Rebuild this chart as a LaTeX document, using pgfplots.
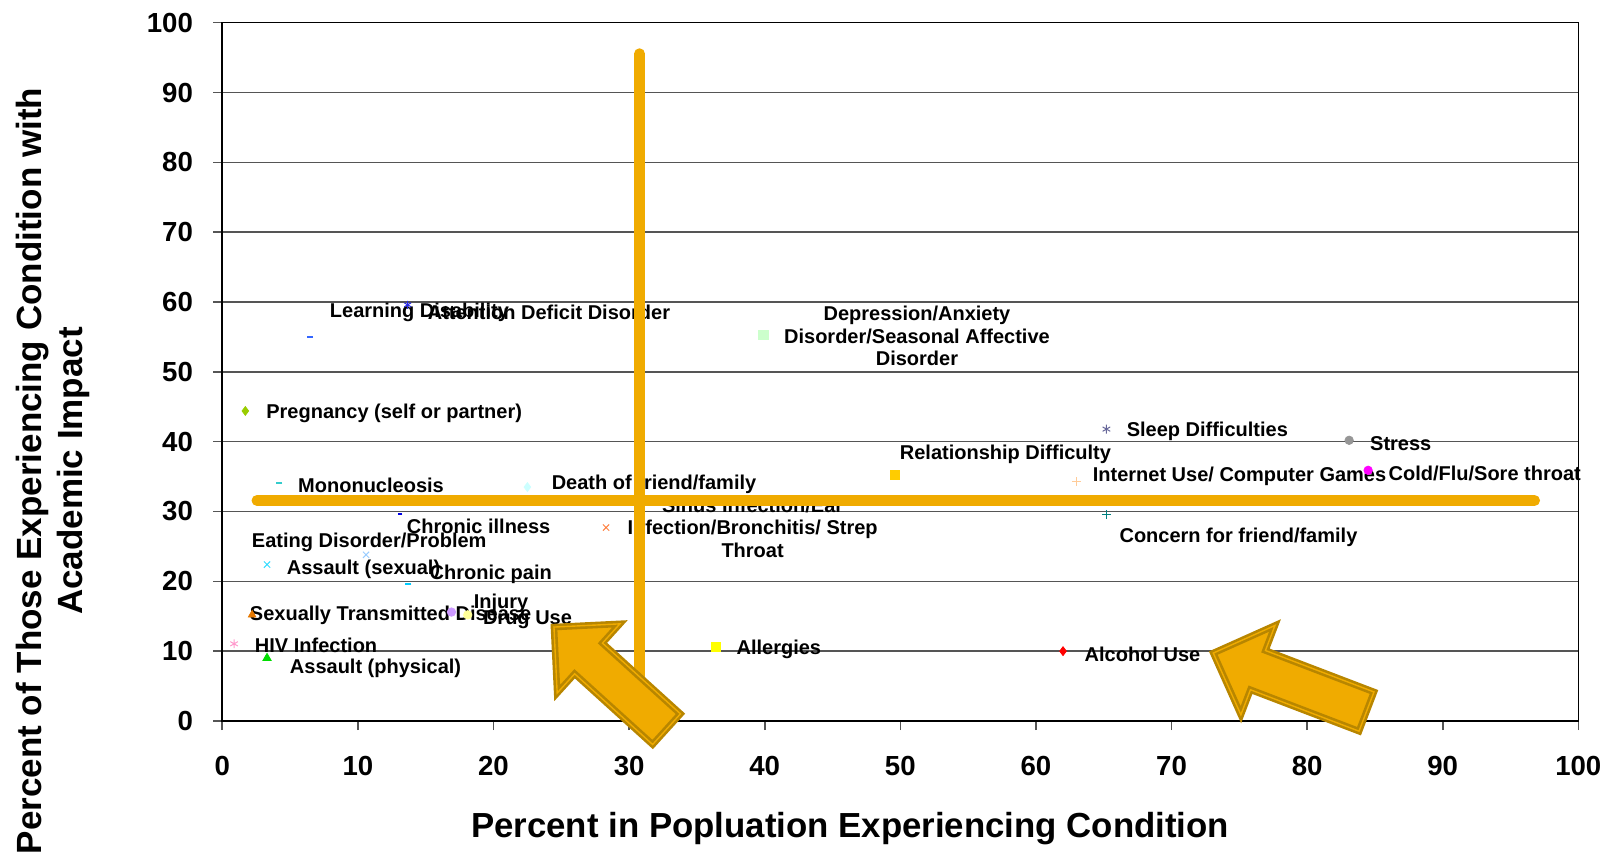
\documentclass[border=0pt]{standalone}
\usepackage{fontspec}
\setmainfont{Liberation Sans}
\usepackage{pgfplots}
\pgfplotsset{compat=1.18}
\definecolor{gridc}{RGB}{85,85,85}
\definecolor{hl}{RGB}{240,171,0}
\definecolor{hldark}{RGB}{184,134,0}
\tikzset{lbl/.style={anchor=west, inner sep=0pt, yshift=-1pt, font=\fontsize{10}{11.3}\selectfont\bfseries, text=black},
         lblc/.style={anchor=center, align=center, inner sep=0pt, font=\fontsize{10}{11.3}\selectfont\bfseries, text=black}}
\begin{document}
\begin{tikzpicture}
\useasboundingbox (-111.15pt,-65.5pt) rectangle (693.85pt,360.5pt);
\begin{axis}[
  at={(0pt,0pt)}, anchor=south west,
  scale only axis, width=678pt, height=349.15pt,
  xmin=0, xmax=100, ymin=0, ymax=100,
  xtick={0,10,...,100}, ytick={0,10,...,100},
  tick align=outside, major tick length=4.5pt,
  tick pos=left,
  ymajorgrids, grid style={gridc, line width=0.8pt},
  axis line style={black, line width=0.8pt},
  every tick/.style={gridc, line width=0.8pt},
  ticklabel style={font=\fontsize{13.8}{16}\selectfont\bfseries},
  /pgf/number format/assume math mode=true,
  xticklabel style={inner sep=0pt, anchor=center, yshift=-18pt},
  yticklabel style={inner sep=0pt, anchor=east, xshift=-10pt},
  clip=false,
  only marks,
]
% Learning Disability
\addplot[mark=-, mark size=1.6pt, line width=1pt, color={rgb,255:red,51;green,102;blue,255}] coordinates {(6.47,55.0)};
% Attention Deficit Disorder
\addplot[mark=asterisk, mark size=2pt, line width=0.5pt, color={rgb,255:red,40;green,40;blue,230}] coordinates {(13.67,59.6)};
% Pregnancy
\addplot[mark=diamond*, mark size=2.2pt, color={rgb,255:red,153;green,204;blue,0}] coordinates {(1.7,44.4)};
% Mononucleosis
\addplot[mark=-, mark size=1.6pt, line width=1pt, color={rgb,255:red,51;green,204;blue,204}] coordinates {(4.2,34.1)};
% Death of friend/family
\addplot[mark=diamond*, mark size=2.2pt, color={rgb,255:red,204;green,255;blue,255}] coordinates {(22.5,33.5)};
% Depression
\addplot[mark=square*, mark size=2.4pt, color={rgb,255:red,204;green,255;blue,204}] coordinates {(39.9,55.3)};
% Sleep
\addplot[mark=asterisk, mark size=2.2pt, line width=0.5pt, color={rgb,255:red,102;green,102;blue,153}] coordinates {(65.2,41.8)};
% Stress
\addplot[mark=*, mark size=2.1pt, color={rgb,255:red,150;green,150;blue,150}] coordinates {(83.1,40.2)};
% Cold/Flu
\addplot[mark=*, mark size=2.1pt, color={rgb,255:red,255;green,0;blue,255}] coordinates {(84.5,35.9)};
% Relationship
\addplot[mark=square*, mark size=2.2pt, color={rgb,255:red,255;green,204;blue,0}] coordinates {(49.6,35.2)};
% Internet
\addplot[mark=+, mark size=2.2pt, line width=0.5pt, color={rgb,255:red,255;green,204;blue,153}] coordinates {(63.0,34.3)};
% Concern
\addplot[mark=+, mark size=2.2pt, line width=0.5pt, color={rgb,255:red,0;green,128;blue,128}] coordinates {(65.2,29.6)};
% Chronic illness
\addplot[mark=-, mark size=1.2pt, line width=1pt, color={rgb,255:red,0;green,0;blue,230}] coordinates {(13.1,29.6)};
% Sinus
\addplot[mark=x, mark size=2.2pt, line width=0.5pt, color={rgb,255:red,255;green,128;blue,64}] coordinates {(28.3,27.7)};
% Eating Disorder
\addplot[mark=x, mark size=2.2pt, line width=0.5pt, color={rgb,255:red,153;green,204;blue,255}] coordinates {(10.6,23.8)};
% Assault (sexual)
\addplot[mark=x, mark size=2.2pt, line width=0.5pt, color={rgb,255:red,51;green,220;blue,255}] coordinates {(3.3,22.4)};
% Chronic pain
\addplot[mark=-, mark size=1.6pt, line width=1pt, color={rgb,255:red,0;green,204;blue,255}] coordinates {(13.7,19.6)};
% STD
\addplot[mark=triangle*, mark size=2.2pt, color={rgb,255:red,230;green,120;blue,0}] coordinates {(2.2,15.2)};
% Injury
\addplot[mark=*, mark size=2.1pt, color={rgb,255:red,204;green,153;blue,255}] coordinates {(16.9,15.6)};
% Drug Use
\addplot[mark=*, mark size=2.1pt, color={rgb,255:red,255;green,255;blue,153}] coordinates {(18.1,15.2)};
% HIV
\addplot[mark=asterisk, mark size=2.2pt, line width=0.5pt, color={rgb,255:red,255;green,153;blue,204}] coordinates {(0.87,11.05)};
% Assault (physical)
\addplot[mark=triangle*, mark size=2.4pt, color={rgb,255:red,0;green,220;blue,0}] coordinates {(3.3,9.0)};
% Allergies
\addplot[mark=square*, mark size=2.2pt, color={rgb,255:red,255;green,255;blue,0}] coordinates {(36.4,10.6)};
% Alcohol
\addplot[mark=diamond*, mark size=2.2pt, color={rgb,255:red,255;green,0;blue,0}] coordinates {(62.0,10.0)};

% data labels
\node[lbl] at (axis cs:7.91,58.86) {Learning Disability};
\node[lbl, anchor=east] at (axis cs:33.05,58.86) {Attention Deficit Disorder};
\node[lblc] at (axis cs:51.23,55.13) {Depression/Anxiety\\Disorder/Seasonal Affective\\Disorder};
\node[lbl] at (axis cs:3.22,44.29) {Pregnancy (self or partner)};
\node[lbl] at (axis cs:66.67,41.78) {Sleep Difficulties};
\node[lbl] at (axis cs:84.62,40.03) {Stress};
\node[lbl] at (axis cs:49.94,38.41) {Relationship Difficulty};
\node[lbl] at (axis cs:85.98,35.76) {Cold/Flu/Sore throat};
\node[lbl] at (axis cs:64.17,35.31) {Internet Use/ Computer Games};
\node[lbl] at (axis cs:5.57,34.0) {Mononucleosis};
\node[lbl] at (axis cs:24.27,34.14) {Death of friend/family};
\node[lblc] at (axis cs:39.11,27.67) {Sinus Infection/Ear\\Infection/Bronchitis/ Strep\\Throat};
\node[lbl] at (axis cs:13.59,28.11) {Chronic illness};
\node[lbl] at (axis cs:66.14,26.64) {Concern for friend/family};
\node[lbl] at (axis cs:2.16,25.92) {Eating Disorder/Problem};
\node[lbl] at (axis cs:4.73,21.94) {Assault (sexual)};
\node[lbl] at (axis cs:15.26,21.34) {Chronic pain};
\node[lbl] at (axis cs:18.52,17.08) {Injury};
\node[lbl] at (axis cs:2.01,15.47) {Sexually Transmitted Disease};
\node[lbl] at (axis cs:19.2,14.74) {Drug Use};
\node[lbl] at (axis cs:2.38,11.06) {HIV Infection};
\node[lbl] at (axis cs:37.9,10.61) {Allergies};
\node[lbl] at (axis cs:63.57,9.88) {Alcohol Use};
\node[lbl] at (axis cs:4.96,7.82) {Assault (physical)};

% axis titles
\node[font=\fontsize{17.4}{20}\selectfont\bfseries, inner sep=0pt] at (axis cs:46.3,-15.4) {Percent in Popluation Experiencing Condition};
\node[rotate=90, align=center, inner sep=0pt, font=\fontsize{17.5}{20.5}\selectfont\bfseries] at (axis cs:-12.5,35.8) {Percent of Those Experiencing Condition with\\Academic Impact};

\coordinate (V1) at (axis cs:30.77,95.55);
\coordinate (V2) at (axis cs:30.77,2);
\coordinate (H1) at (axis cs:2.56,31.58);
\coordinate (H2) at (axis cs:96.77,31.58);
\coordinate (A1) at (axis cs:28.61,6.14);
\coordinate (A2) at (axis cs:78.73,5.54);
\end{axis}
\draw[hl, line width=5.5pt, line cap=round] (V1) -- (V2);
\draw[hl, line width=5.5pt, line cap=round] (H1) -- (H2);
\begin{scope}[shift={(A1)}, rotate=137.8]
\draw[hldark, line width=1.3pt, double=hl, double distance=0.7pt, fill=hl, line join=miter]
  (-38pt,-10.35pt) -- (14.65pt,-10.35pt) -- (14.65pt,-23.35pt) -- (38pt,0pt) -- (14.65pt,23.35pt) -- (14.65pt,10.35pt) -- (-38pt,10.35pt) -- cycle;
\end{scope}
\begin{scope}[shift={(A2)}, rotate=159.1]
\draw[hldark, line width=1.3pt, double=hl, double distance=0.7pt, fill=hl, line join=miter]
  (-41pt,-10.5pt) -- (17.1pt,-10.5pt) -- (17.1pt,-23.9pt) -- (41pt,0pt) -- (17.1pt,23.9pt) -- (17.1pt,10.5pt) -- (-41pt,10.5pt) -- cycle;
\end{scope}
\end{tikzpicture}
\end{document}
